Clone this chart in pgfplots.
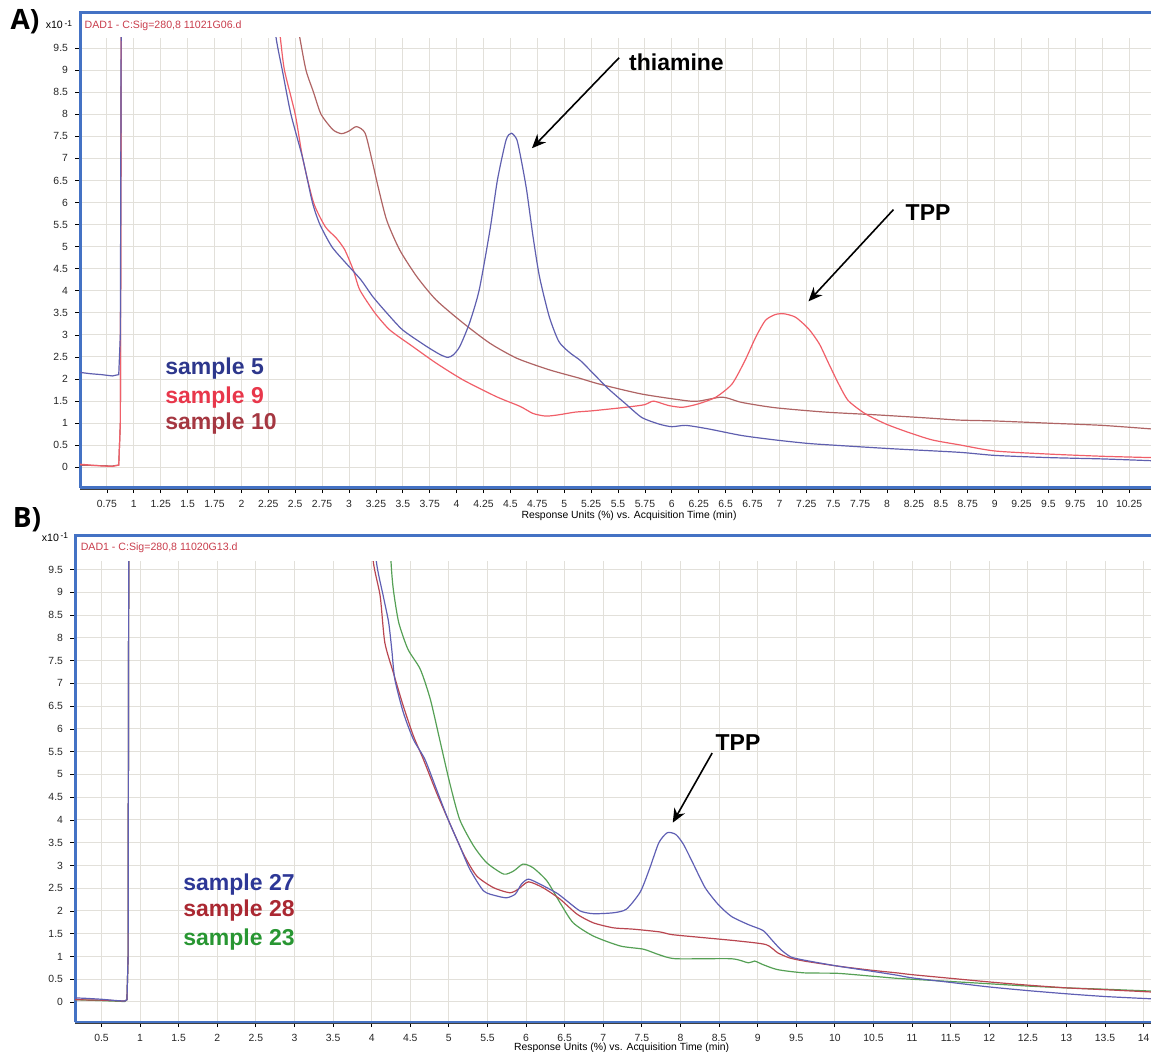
\documentclass[border=0pt]{standalone}
\usepackage{fontspec}
\setmainfont{Liberation Sans}
\newfontfamily\labfont{Open Sans}
\usepackage{pgfplots}
\pgfplotsset{compat=1.18}
\usetikzlibrary{arrows.meta}

\definecolor{frameblue}{RGB}{68,114,196}
\definecolor{gridc}{RGB}{226,224,218}
\definecolor{titlered}{RGB}{200,60,75}
\definecolor{lineblue}{RGB}{95,95,175}
\definecolor{linered}{RGB}{240,95,105}
\definecolor{linebrown}{RGB}{175,100,100}
\definecolor{txtblue}{RGB}{45,55,140}
\definecolor{txtred}{RGB}{232,55,75}
\definecolor{txtbrown}{RGB}{165,55,65}
\definecolor{Bblue}{RGB}{95,95,180}
\definecolor{Bred}{RGB}{185,70,80}
\definecolor{Bgreen}{RGB}{85,160,85}
\definecolor{txtBblue}{RGB}{45,55,150}
\definecolor{txtBred}{RGB}{170,40,50}
\definecolor{txtBgreen}{RGB}{40,150,50}

\pgfplotsset{chrom/.style={
  scale only axis,
  clip mode=individual,
  axis x line*=bottom, axis y line*=left,
  x axis line style={frameblue, line width=1.5pt},
  y axis line style={frameblue, line width=1.5pt},
  tick align=outside,
  major tick length=2.5pt,
  tick style={black, line width=0.4pt},
  grid=major,
  major grid style={gridc, line width=0.5pt},
  ticklabel style={font=\fontsize{5.2}{6}\selectfont, text=black!85},
  /pgf/number format/assume math mode=true,
  ytick={0,0.5,...,9.5},
  yticklabel style={/pgf/number format/.cd, fixed, precision=1},
  xlabel style={font=\fontsize{5.2}{6}\selectfont, anchor=center},
  every axis plot/.append style={line width=0.6pt, no marks},
  sm/.style={smooth, tension=0.4},
}}

\begin{document}
\begin{tikzpicture}
\useasboundingbox (0,0) rectangle (575.5pt,525.5pt);

% ---------------- Panel A ----------------
\begin{axis}[chrom, at={(40pt,281.5pt)}, anchor=south west,
  width=535.5pt, height=225pt,
  xmin=0.5, xmax=10.453, ymin=-0.469, ymax=9.728,
  xtick={0.75,1,...,10.25},
  xticklabel style={/pgf/number format/.cd, fixed, precision=2},
  xlabel={Response Units (\%) vs. Acquisition Time (min)},
  xlabel style={at={(axis description cs:0.5126,-0.062)}},
]
% sample 10 (brown)
\addplot[linebrown] coordinates {
(0.5,0.05) (0.8,0.03) (0.86,0.05) (0.875,1) (0.885,12)};
\addplot[linebrown, sm] coordinates {
(2.45,11) (2.54,9.77) (2.6,9.0) (2.67,8.5) (2.74,8.0) (2.85,7.65) (2.93,7.56) (3.0,7.62)
(3.07,7.72) (3.15,7.57) (3.22,6.89) (3.27,6.36) (3.35,5.6) (3.47,4.93)
(3.63,4.32) (3.81,3.79) (4.06,3.27) (4.31,2.81) (4.56,2.47) (4.86,2.21)
(5.14,2.02) (5.32,1.89) (5.72,1.66) (6.13,1.51) (6.25,1.5) (6.47,1.59)
(6.65,1.47) (6.96,1.35) (7.43,1.25) (7.89,1.19) (8.36,1.12) (8.67,1.07)
(9.0,1.05) (9.5,1.0) (10.0,0.95) (10.453,0.87)};
% sample 9 (red)
\addplot[linered] coordinates {
(0.5,0.07) (0.6,0.05) (0.7,0.03) (0.8,0.02) (0.86,0.05) (0.875,1.0) (0.885,12)};
\addplot[linered, sm] coordinates {
(2.3,11) (2.36,9.77) (2.40,9.0) (2.5,8.0) (2.57,7.0) (2.67,6.0) (2.78,5.45) (2.88,5.2)
(2.96,4.93) (3.04,4.47) (3.1,4.02) (3.24,3.5) (3.38,3.11) (3.59,2.74)
(3.81,2.36) (4.06,1.98) (4.37,1.6) (4.59,1.38) (4.71,1.22) (4.83,1.16)
(4.95,1.19) (5.1,1.25) (5.26,1.28) (5.57,1.36) (5.75,1.42) (5.83,1.5) (5.97,1.4)
(6.1,1.36) (6.25,1.44) (6.41,1.59) (6.56,1.89) (6.68,2.42) (6.78,2.95)
(6.87,3.33) (6.96,3.46) (7.04,3.48) (7.15,3.4) (7.27,3.14) (7.37,2.8)
(7.46,2.34) (7.55,1.89) (7.64,1.51) (7.8,1.21) (7.99,0.98) (8.2,0.79)
(8.42,0.62) (8.67,0.51) (9.0,0.37) (9.5,0.3) (10.0,0.25) (10.453,0.22)};
% sample 5 (blue)
\addplot[lineblue] coordinates {
(0.5,2.15) (0.6,2.12) (0.7,2.1) (0.8,2.07) (0.86,2.1) (0.875,3.0) (0.885,12)};
\addplot[lineblue, sm] coordinates {
(2.27,11) (2.32,9.77) (2.38,9.0) (2.46,8.0) (2.57,7.0) (2.66,6.0) (2.73,5.5) (2.84,5.0)
(2.97,4.63) (3.11,4.25) (3.22,3.87) (3.35,3.5) (3.5,3.11) (3.72,2.74)
(3.85,2.55) (3.92,2.49) (3.97,2.55) (4.03,2.74) (4.12,3.27) (4.21,4.02)
(4.31,5.38) (4.38,6.52) (4.46,7.42) (4.51,7.57) (4.56,7.42) (4.6,6.97)
(4.65,6.29) (4.71,5.23) (4.77,4.32) (4.86,3.42) (4.95,2.85) (5.05,2.6)
(5.15,2.42) (5.26,2.15) (5.41,1.78) (5.57,1.44) (5.72,1.13) (5.88,0.98)
(6.0,0.92) (6.13,0.95) (6.34,0.87) (6.65,0.72) (6.96,0.62) (7.27,0.54)
(7.58,0.49) (8.05,0.42) (8.67,0.34) (9.0,0.27) (9.5,0.22) (10.0,0.19) (10.453,0.15)};

% frame, title, labels
\draw[frameblue, line width=1.5pt] (rel axis cs:0,0.98) -- (rel axis cs:0,1.0556) -- (rel axis cs:1.05,1.0556);
\draw[black!75, line width=0.4pt, yshift=-0.85pt] (rel axis cs:0,0) -- (rel axis cs:1,0);
\node[anchor=west, inner sep=0, text=titlered, font=\fontsize{5.3}{6}\selectfont] at (rel axis cs:0.004,1.0267) {DAD1 - C:Sig=280,8 11021G06.d};
\node[anchor=east, inner sep=0, font=\fontsize{5.3}{6}\selectfont] at (rel axis cs:-0.007,1.03) {x10\,\raisebox{1.3pt}{\fontsize{4.2}{5}\selectfont -1}};
\node[font=\labfont\bfseries\fontsize{14}{14}\selectfont, inner sep=0] at (rel axis cs:-0.0514,1.0356) {A)};

\node[anchor=west, inner sep=0, text=txtblue, font=\bfseries\fontsize{11.5}{12}\selectfont] at (axis cs:1.29,2.23) {sample 5};
\node[anchor=west, inner sep=0, text=txtred, font=\bfseries\fontsize{11.5}{12}\selectfont] at (axis cs:1.29,1.59) {sample 9};
\node[anchor=west, inner sep=0, text=txtbrown, font=\bfseries\fontsize{11.5}{12}\selectfont] at (axis cs:1.29,1.0) {sample 10};

\draw[black, line width=0.8pt, -{Stealth[length=7pt,width=6pt]}] (axis cs:5.51,9.28) -- (axis cs:4.70,7.23);
\node[anchor=west, inner sep=0, font=\bfseries\fontsize{11.5}{12}\selectfont] at (axis cs:5.6,9.17) {thiamine};
\draw[black, line width=0.8pt, -{Stealth[length=7pt,width=6pt]}] (axis cs:8.06,5.84) -- (axis cs:7.27,3.76);
\node[anchor=west, inner sep=0, font=\bfseries\fontsize{11.5}{12}\selectfont] at (axis cs:8.17,5.77) {TPP};
\end{axis}

% ---------------- Panel B ----------------
\begin{axis}[chrom, at={(37.5pt,14.5pt)}, anchor=south west,
  width=538pt, height=230.5pt,
  xmin=0.157, xmax=14.095, ymin=-0.44, ymax=9.69,
  xtick={0.5,1,...,14},
  xticklabel style={/pgf/number format/.cd, fixed, precision=1},
  xlabel={Response Units (\%) vs. Acquisition Time (min)},
  xlabel style={at={(axis description cs:0.508,-0.056)}},
]
% sample 23 (green)
\addplot[Bgreen] coordinates {
(0.157,0.05) (0.5,0.03) (0.8,0.01) (0.83,0.05) (0.845,1) (0.855,12)};
\addplot[Bgreen, sm] coordinates {
(4.22,11) (4.25,9.69) (4.28,9.07) (4.35,8.34) (4.47,7.75) (4.63,7.31) (4.76,6.65)
(4.89,5.7) (5.01,4.82) (5.14,4.01) (5.32,3.43) (5.49,3.06) (5.71,2.81)
(5.84,2.88) (5.96,3.03) (6.09,2.95) (6.27,2.66) (6.44,2.18) (6.61,1.74)
(6.87,1.45) (7.22,1.23) (7.52,1.16) (7.72,1.04) (7.94,0.95) (8.66,0.95)
(8.88,0.86) (8.96,0.9) (9.07,0.82) (9.26,0.71) (9.6,0.64) (10.03,0.63)
(10.46,0.57) (10.8,0.52) (11,0.5) (11.5,0.45) (12,0.4) (12.5,0.35) (13,0.31)
(13.5,0.28) (14.095,0.24)};
% sample 28 (red)
\addplot[Bred] coordinates {
(0.157,0.05) (0.5,0.04) (0.8,0.02) (0.83,0.05) (0.845,1) (0.855,12)};
\addplot[Bred, sm] coordinates {
(3.98,11) (4.02,9.69) (4.11,8.92) (4.17,7.9) (4.28,7.24) (4.41,6.5) (4.54,5.85)
(4.67,5.33) (4.84,4.6) (4.99,4.01) (5.19,3.25) (5.36,2.77) (5.58,2.51)
(5.79,2.4) (5.9,2.48) (6.03,2.64) (6.22,2.51) (6.44,2.26) (6.66,1.93)
(6.87,1.74) (7.13,1.63) (7.39,1.6) (7.73,1.54) (7.89,1.48) (8.32,1.41)
(8.75,1.34) (9.11,1.26) (9.26,1.08) (9.41,0.97) (9.6,0.9) (10.03,0.79)
(10.46,0.7) (10.8,0.64) (11,0.6) (11.5,0.52) (12,0.44) (12.5,0.37) (13,0.31)
(13.5,0.27) (14.095,0.22)};
% sample 27 (blue)
\addplot[Bblue] coordinates {
(0.157,0.09) (0.3,0.08) (0.5,0.06) (0.7,0.03) (0.8,0.02) (0.83,0.05) (0.845,1) (0.855,12)};
\addplot[Bblue, sm] coordinates {
(4.02,11) (4.06,9.69) (4.15,8.92) (4.22,8.34) (4.26,7.75) (4.3,7.09) (4.41,6.36)
(4.54,5.77) (4.69,5.33) (4.84,4.67) (4.99,4.01) (5.14,3.43) (5.27,2.92)
(5.45,2.44) (5.62,2.33) (5.75,2.29) (5.86,2.37) (5.94,2.59) (6.03,2.7)
(6.18,2.59) (6.4,2.39) (6.53,2.22) (6.7,2.0) (6.87,1.94) (7.13,1.96)
(7.3,2.04) (7.48,2.42) (7.6,2.93) (7.72,3.5) (7.83,3.72) (7.94,3.68)
(8.04,3.46) (8.17,3.02) (8.32,2.51) (8.49,2.14) (8.66,1.88) (8.88,1.7)
(9.07,1.57) (9.18,1.37) (9.3,1.15) (9.43,0.99) (9.6,0.92) (10.03,0.79)
(10.46,0.68) (10.8,0.59) (11.0,0.53) (11.5,0.43) (12,0.33) (12.5,0.25)
(13,0.18) (13.5,0.12) (14.095,0.07)};

\draw[frameblue, line width=1.5pt] (rel axis cs:0,0.98) -- (rel axis cs:0,1.0564) -- (rel axis cs:1.05,1.0564);
\draw[black!75, line width=0.4pt, yshift=-0.85pt] (rel axis cs:0,0) -- (rel axis cs:1,0);
\node[anchor=west, inner sep=0, text=titlered, font=\fontsize{5.3}{6}\selectfont] at (rel axis cs:0.005,1.028) {DAD1 - C:Sig=280,8 11020G13.d};
\node[anchor=east, inner sep=0, font=\fontsize{5.3}{6}\selectfont] at (rel axis cs:-0.006,1.052) {x10\,\raisebox{1.3pt}{\fontsize{4.2}{5}\selectfont -1}};
\node[font=\labfont\bfseries\fontsize{14}{14}\selectfont, inner sep=0] at (rel axis cs:-0.0446,1.089) {B)};

\node[anchor=west, inner sep=0, text=txtBblue, font=\bfseries\fontsize{11.5}{12}\selectfont] at (axis cs:1.556,2.57) {sample 27};
\node[anchor=west, inner sep=0, text=txtBred, font=\bfseries\fontsize{11.5}{12}\selectfont] at (axis cs:1.556,2.0) {sample 28};
\node[anchor=west, inner sep=0, text=txtBgreen, font=\bfseries\fontsize{11.5}{12}\selectfont] at (axis cs:1.556,1.38) {sample 23};

\draw[black, line width=0.8pt, -{Stealth[length=7pt,width=6pt]}] (axis cs:8.41,5.47) -- (axis cs:7.90,3.94);
\node[anchor=west, inner sep=0, font=\bfseries\fontsize{11.5}{12}\selectfont] at (axis cs:8.45,5.69) {TPP};
\end{axis}
\end{tikzpicture}
\end{document}
